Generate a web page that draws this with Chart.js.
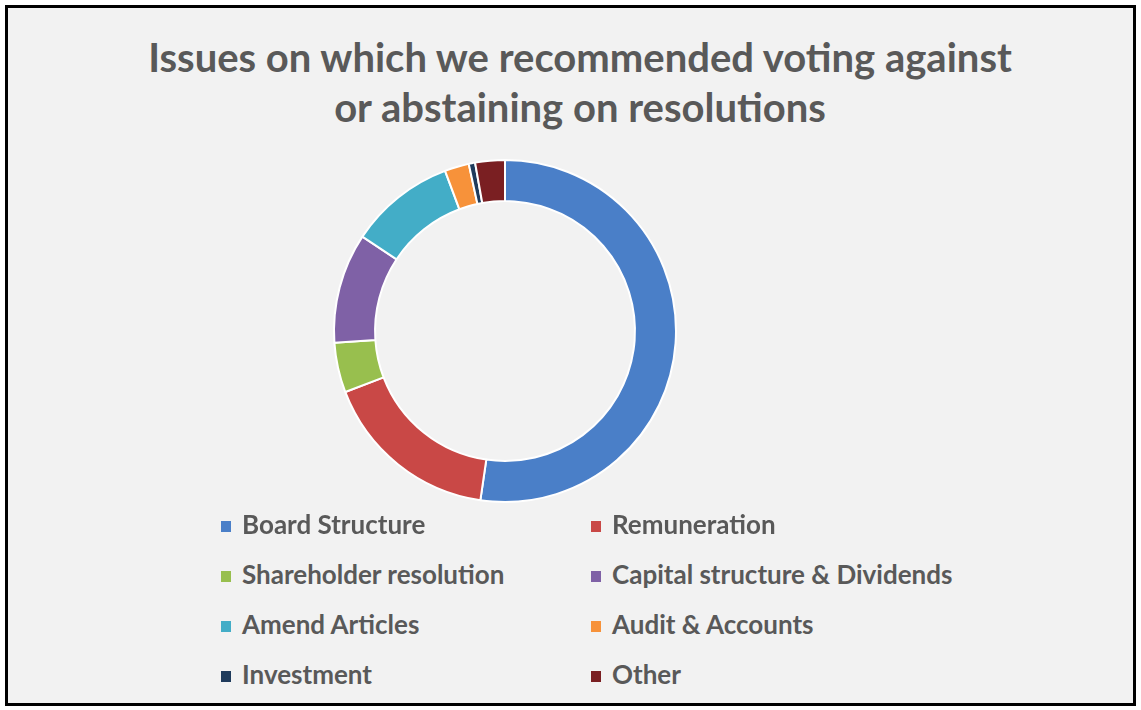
<!DOCTYPE html>
<html>
<head>
<meta charset="utf-8">
<script src="https://cdn.jsdelivr.net/npm/chart.js@4.4.0/dist/chart.umd.min.js"></script>
<style>
  body { margin: 0; background: #fff; width: 1141px; height: 710px; overflow: hidden; position: relative; }
  #frame { position: absolute; left: 5px; top: 5px; width: 1125px; height: 695px; border: 3px solid #000; background: #f2f2f2; }
  #title { position: absolute; left: 80px; width: 1000px; top: 32px; text-align: center;
           font: bold 40px Lato, sans-serif; line-height: 50px; color: #595959; }
  #chartBox { position: absolute; left: 325px; top: 151px; width: 360px; height: 360px; }
  .item { position: absolute; font: bold 26px Lato, sans-serif; color: #595959; line-height: 30px; white-space: nowrap; }
  .item i { display: inline-block; width: 10px; height: 11px; margin-right: 11px; vertical-align: 2px; }
</style>
</head>
<body>
<div id="frame"></div>
<div id="title">Issues on which we recommended voting against<br>or abstaining on resolutions</div>
<div id="chartBox"><canvas id="issuesChart" width="360" height="360"></canvas></div>
<div id="legend"></div>
<script>
// values (share of resolutions, %)
var categories = ['Board Structure', 'Remuneration', 'Shareholder resolution', 'Capital structure & Dividends',
                  'Amend Articles', 'Audit & Accounts', 'Investment', 'Other'];
var shares = [52.3, 16.9, 4.7, 10.4, 10.0, 2.3, 0.6, 2.8];
var colours = ['#4a7fc8', '#c94846', '#98bf4e', '#7f61a6', '#43adc7', '#f7923a', '#1f3b5c', '#7a1f22'];

var ctx = document.getElementById('issuesChart').getContext('2d');
var myChart = new Chart(ctx, {
	type: 'doughnut',
	data: {
		labels: categories,
		datasets: [{
			data: shares,
			backgroundColor: colours,
			borderColor: '#ffffff',
			borderWidth: 2
		}]
	},
	options: {
		responsive: false,
		animation: false,
		cutout: '76%',
		layout: { padding: 8 },
		plugins: {
			legend: { display: false },
			tooltip: { enabled: false }
		}
	}
});

// two-column legend under the ring
var legend = document.getElementById('legend');
var colX = [221, 591];
var rowY = [524, 574, 624, 674];
for (var i = 0; i < categories.length; i++) {
	var el = document.createElement('div');
	el.className = 'item';
	el.style.left = colX[i % 2] + 'px';
	el.style.top = (rowY[Math.floor(i / 2)] - 15) + 'px';
	el.innerHTML = '<i style="background:' + colours[i] + '"></i>';
	el.appendChild(document.createTextNode(categories[i]));
	legend.appendChild(el);
}
</script>
</body>
</html>
